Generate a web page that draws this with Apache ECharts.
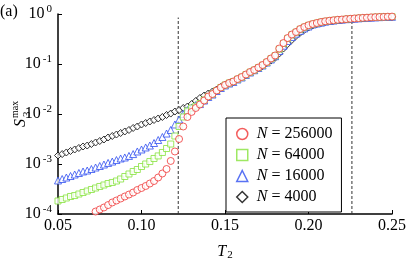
<!DOCTYPE html>
<html><head><meta charset="utf-8">
<script src="https://cdn.jsdelivr.net/npm/echarts@6/dist/echarts.min.js"></script>
<style>html,body{margin:0;padding:0;background:#fff}#c{width:409px;height:266px}</style>
</head><body><div id="c"></div>
<script>
var T = [0.05,0.0525,0.055,0.0575,0.06,0.0625,0.065,0.0675,0.07,0.0725,0.075,0.0775,0.08,0.0825,0.085,0.0875,0.09,0.0925,0.095,0.0975,0.10,0.1025,0.105,0.1075,0.11,0.1125,0.115,0.1175,0.12,0.1225,0.125,0.1275,0.13,0.1325,0.135,0.1375,0.14,0.1425,0.145,0.1475,0.15,0.1525,0.155,0.1575,0.16,0.1625,0.165,0.1675,0.17,0.1725,0.175,0.1775,0.18,0.1825,0.185,0.1875,0.19,0.1925,0.195,0.1975,0.20,0.2025,0.205,0.2075,0.21,0.2125,0.215,0.2175,0.22,0.2225,0.225,0.2275,0.23,0.2325,0.235,0.2375,0.24,0.2425,0.245,0.2475,0.25];

var S_N256000 = [null,null,null,null,null,null,null,null,null,
 1.12e-4,1.23e-4,1.35e-4,1.51e-4,1.70e-4,1.86e-4,2.04e-4,2.24e-4,2.45e-4,2.69e-4,
 3.02e-4,3.31e-4,3.63e-4,4.07e-4,4.57e-4,5.37e-4,6.46e-4,7.94e-4,1.15e-3,1.78e-3,
 3.16e-3,5.62e-3,8.71e-3,0.0110,0.0132,0.0155,0.0186,0.0224,0.0251,0.0295,
 0.0339,0.0380,0.0417,0.0447,0.0501,0.0550,0.0617,0.0692,0.0759,0.0851,
 0.0955,0.110,0.129,0.148,0.204,0.263,0.331,0.389,0.437,0.501,
 0.550,0.596,0.631,0.661,0.692,0.716,0.733,0.750,0.767,0.776,
 0.791,0.802,0.815,0.826,0.838,0.845,0.857,0.865,0.871,0.875,0.883,0.887];

var S_N64000 = [1.82e-4,1.95e-4,2.09e-4,2.24e-4,2.34e-4,2.51e-4,2.69e-4,2.88e-4,3.09e-4,3.31e-4,
 3.55e-4,3.80e-4,4.07e-4,4.27e-4,4.57e-4,5.01e-4,5.62e-4,6.31e-4,7.08e-4,7.76e-4,
 8.91e-4,1.00e-3,1.12e-3,1.29e-3,1.45e-3,1.70e-3,2.04e-3,2.51e-3,3.63e-3,5.62e-3,
 8.71e-3,0.0115,0.0132,0.0143,0.0162,0.0191,0.0224,0.0251,0.0295,0.0339,
 0.0380,0.0417,0.0447,0.0496,0.0545,0.0610,0.0685,0.0755,0.0845,0.0945,
 0.108,0.127,0.146,0.198,0.257,0.324,0.383,0.432,0.495,0.545,
 0.592,0.627,0.658,0.689,0.713,0.731,0.748,0.765,0.775,0.790,
 0.801,0.814,0.825,0.837,0.845,0.856,0.864,0.870,0.875,0.882,0.886];

var S_N16000 = [4.68e-4,5.01e-4,5.37e-4,5.75e-4,6.17e-4,6.61e-4,7.08e-4,7.41e-4,7.94e-4,8.51e-4,
 9.12e-4,9.77e-4,1.05e-3,1.12e-3,1.20e-3,1.29e-3,1.35e-3,1.45e-3,1.58e-3,1.78e-3,
 1.95e-3,2.14e-3,2.34e-3,2.63e-3,3.02e-3,3.47e-3,4.07e-3,4.79e-3,6.17e-3,7.76e-3,
 0.0100,0.0120,0.0135,0.0151,0.0158,0.0186,0.0219,0.0245,0.0288,0.0331,
 0.0372,0.0407,0.0437,0.0490,0.0537,0.0603,0.0676,0.0750,0.0832,0.0933,
 0.107,0.123,0.143,0.182,0.232,0.288,0.347,0.404,0.460,0.515,
 0.562,0.617,0.646,0.671,0.702,0.724,0.740,0.760,0.773,0.787,
 0.798,0.809,0.819,0.830,0.841,0.849,0.857,0.865,0.871,0.875,0.879];

var S_N4000 = [1.48e-3,1.58e-3,1.70e-3,1.82e-3,1.95e-3,2.09e-3,2.24e-3,2.34e-3,2.51e-3,2.69e-3,
 2.88e-3,3.09e-3,3.39e-3,3.63e-3,3.89e-3,4.17e-3,4.47e-3,4.79e-3,5.25e-3,5.62e-3,
 6.17e-3,6.61e-3,7.08e-3,7.59e-3,8.13e-3,8.71e-3,9.55e-3,0.0102,0.0112,0.0120,
 0.0132,0.0141,0.0158,0.0182,0.0209,0.0234,0.0257,0.0282,0.0309,0.0347,
 0.0380,0.0417,0.0437,0.0490,0.0537,0.0603,0.0676,0.0741,0.0832,0.0912,
 0.105,0.117,0.133,0.162,0.204,0.251,0.302,0.363,0.422,0.482,
 0.537,0.589,0.631,0.661,0.692,0.714,0.733,0.754,0.767,0.780,
 0.791,0.805,0.816,0.826,0.838,0.845,0.853,0.861,0.867,0.871,0.875];

var seriesNames = ['N = 4000','N = 16000','N = 64000','N = 256000'];
var legendOrder = ['N = 256000','N = 64000','N = 16000','N = 4000'];
var xTicks = [0.05, 0.10, 0.15, 0.20, 0.25];
var yTickExponents = [-4, -3, -2, -1, 0];
var dashedT = [0.122, 0.226];
var dashedRange = [1e-4, 0.85];

var FONT = "'Liberation Serif','DejaVu Serif',serif";
function pairs(arr){ var out=[]; for(var i=0;i<T.length;i++){ if(arr[i]!=null) out.push([T[i],arr[i]]); } return out; }

var chart = echarts.init(document.getElementById('c'), null, {renderer:'canvas'});
var sty = [
  {name:seriesNames[0], data:S_N4000, symbol:'diamond', size:7, color:'#000000'},
  {name:seriesNames[1], data:S_N16000, symbol:'triangle', size:7, color:'#2f4ff0'},
  {name:seriesNames[2], data:S_N64000, symbol:'rect', size:6, color:'#86e23c'},
  {name:seriesNames[3], data:S_N256000, symbol:'circle', size:7, color:'#f03535'}
];
var series = [];
dashedT.forEach(function(t){
  series.push({type:'line', data:[[t,dashedRange[0]],[t,dashedRange[1]]], symbol:'none', silent:true,
    lineStyle:{color:'#333', width:1, type:[3,2]}, z:1});
});
sty.forEach(function(s){
  series.push({type:'scatter', name:s.name, data:pairs(s.data), symbol:s.symbol, symbolSize:s.size,
    itemStyle:{color:'#ffffff', borderColor:s.color, borderWidth:1}, z:2, clip:true});
});

chart.setOption({
  animation:false,
  backgroundColor:'#fff',
  grid:{left:58, right:14, top:14, bottom:44, containLabel:false},
  xAxis:{type:'value', min:0.05, max:0.25, interval:0.05,
    axisLine:{lineStyle:{color:'#000', width:1.5}},
    axisTick:{inside:true, length:4, lineStyle:{color:'#000', width:1}},
    splitLine:{show:false},
    axisLabel:{color:'#000', fontFamily:FONT, fontSize:16, margin:4,
      formatter:function(v){ return v.toFixed(2); }},
    name:'{i|T}{s|2}', nameLocation:'middle', nameGap:28,
    nameTextStyle:{rich:{i:{fontFamily:FONT, fontStyle:'italic', fontSize:16, color:'#000'},
      s:{fontFamily:FONT, fontSize:11, color:'#000', padding:[8,0,0,1]}}}
  },
  yAxis:{type:'log', logBase:10, min:1e-4, max:1, interval:1,
    axisLine:{lineStyle:{color:'#000', width:1.5}},
    axisTick:{inside:true, length:4, lineStyle:{color:'#000', width:1}},
    minorTick:{show:false},
    splitLine:{show:false},
    axisLabel:{color:'#000', margin:6,
      formatter:function(v){ var e=Math.round(Math.log10(v)); return '{b|10}{s|'+(e<0?'-'+(-e):e)+'}'; },
      rich:{b:{fontFamily:FONT, fontSize:16, color:'#000'},
            s:{fontFamily:FONT, fontSize:11, color:'#000', padding:[0,0,9,2]}}}
  },
  legend:{orient:'vertical', left:226, top:118, data:legendOrder,
    backgroundColor:'#fff', borderColor:'#000', borderWidth:1, borderRadius:0,
    padding:[8,9,7,10], itemGap:5, itemWidth:11, itemHeight:11,
    itemStyle:{borderWidth:1.5},
    formatter:function(n){ return '{i|N}{r|'+n.slice(1)+'}'; },
    textStyle:{padding:[0,0,0,4], rich:{
      i:{fontFamily:FONT, fontStyle:'italic', fontSize:16, color:'#000', lineHeight:16},
      r:{fontFamily:FONT, fontSize:16, color:'#000', lineHeight:16}}}
  },
  graphic:[
    {type:'text', left:0, top:4, style:{text:'(a)', fontFamily:FONT, fontSize:16, fill:'#000'}},
    {type:'group', x:22, y:127, rotation:Math.PI/2, children:[
      {type:'text', x:0, y:-9, style:{text:'S', fontFamily:FONT, fontStyle:'italic', fontSize:16, fill:'#000'}},
      {type:'text', x:10, y:0, style:{text:'3', fontFamily:FONT, fontSize:11, fill:'#000'}},
      {type:'text', x:9, y:-12, style:{text:'max', fontFamily:FONT, fontSize:10, fill:'#000'}}
    ]}
  ],
  series:series
});
</script></body></html>
